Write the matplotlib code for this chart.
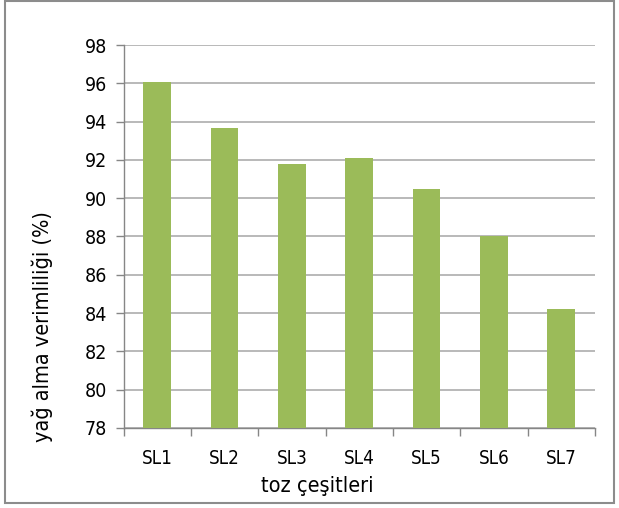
import matplotlib.pyplot as plt
from matplotlib.patches import Rectangle

# yield per powder type
categories = ["SL1", "SL2", "SL3", "SL4", "SL5", "SL6", "SL7"]
yields = [96.07, 93.67, 91.81, 92.09, 90.47, 88.0, 84.19]
y_ticks = [78, 80, 82, 84, 86, 88, 90, 92, 94, 96, 98]

plt.rcParams["font.family"] = ["DejaVu Sans"]
plt.rcParams["font.stretch"] = "condensed"

fig = plt.figure(figsize=(6.19, 5.08), dpi=100)
ax = fig.add_axes([0.1997, 0.1575, 0.7613, 0.7539])

x = list(range(len(categories)))
ax.bar(x, yields, width=0.41, color="#9BBB59", zorder=3)

ax.set_xlim(-0.5, len(categories) - 0.5)
ax.set_ylim(78, 98)
ax.set_yticks(y_ticks)
ax.yaxis.grid(True, color="#A6A6A6", linewidth=1.1, zorder=0)

# category ticks sit between the bars
ax.set_xticks(x)
ax.set_xticklabels(categories, fontsize=13.5)
ax.set_xticks([i - 0.5 for i in range(len(categories) + 1)], minor=True)
ax.tick_params(axis="x", which="major", length=0, pad=15)
ax.tick_params(axis="x", which="minor", length=6, color="#868686", width=1)
ax.tick_params(axis="y", length=6, color="#868686", width=1, labelsize=14, pad=6)

for side in ["top", "right"]:
    ax.spines[side].set_visible(False)
for side in ["left", "bottom"]:
    ax.spines[side].set_color("#868686")
    ax.spines[side].set_linewidth(1)

ax.set_xlabel("toz çeşitleri", fontsize=15.5)
ax.xaxis.set_label_coords(0.412, -0.125)
ax.set_ylabel("yağ alma verimliliği (%)", fontsize=15.5)
ax.yaxis.set_label_coords(-0.15, 0.266)

# chart area border
fig.patches.append(Rectangle((0.008, 0.009), 0.984, 0.989, transform=fig.transFigure,
                             fill=False, edgecolor="#8C8C8C", linewidth=1.5))

fig.savefig("out.png", dpi=100)
